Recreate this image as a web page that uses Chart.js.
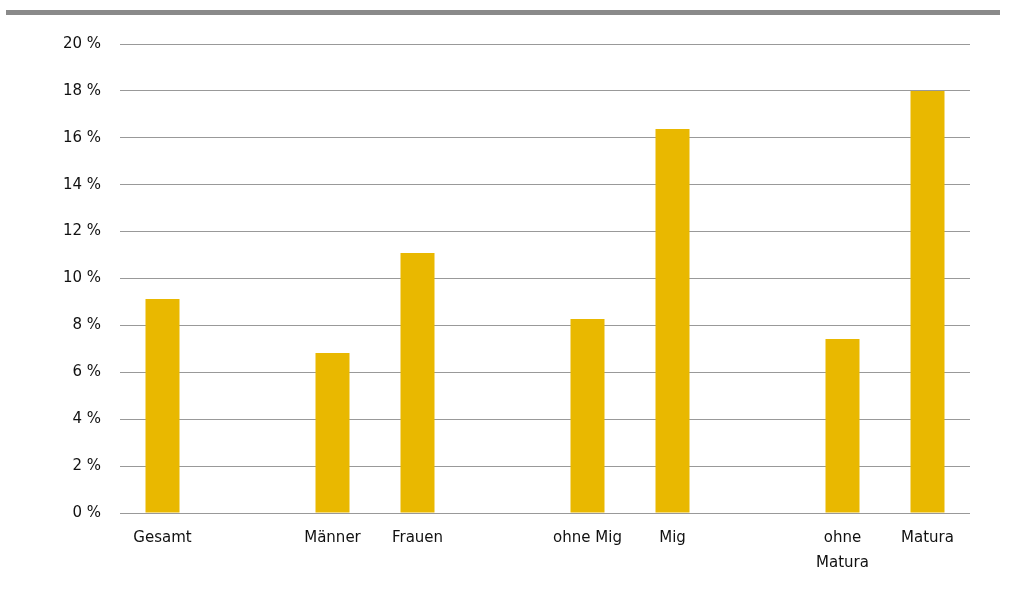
<!DOCTYPE html>
<html>
<head>
<meta charset="utf-8">
<script src="https://cdn.jsdelivr.net/npm/chart.js@4/dist/chart.umd.min.js"></script>
<style>
    html, body { margin: 0; padding: 0; background: #fff; }
    #wrap { position: relative; width: 1022px; height: 593px; }
    #topbar { position: absolute; left: 6px; top: 10px; width: 994px; height: 5px; background: #8a8a8a; }
    canvas { position: absolute; left: 0; top: 0; }
</style>
</head>
<body>
<div id="wrap">
    <div id="topbar"></div>
    <canvas id="chart" width="1022" height="593"></canvas>
</div>
<script>
// Kategorien (leere Einträge = Abstand zwischen den Gruppen)
const categories = ["Gesamt", "", "Männer", "Frauen", "", "ohne Mig", "Mig", "", ["ohne", "Matura"], "Matura"];
const values = [9.13, null, 6.82, 11.09, null, 8.27, 16.38, null, 7.42, 18.0];
const yTicks = [0, 2, 4, 6, 8, 10, 12, 14, 16, 18, 20];

const ctx = document.getElementById("chart").getContext("2d");
new Chart(ctx, {
    type: "bar",
    data: {
        labels: categories,
        datasets: [
            {
                label: "Anteil",
                data: values,
                backgroundColor: "#e9b800",
                barPercentage: 0.4,
                categoryPercentage: 1,
            },
        ],
    },
    options: {
        responsive: false,
        animation: false,
        layout: {
            padding: { top: 44, right: 52, left: 0, bottom: 0 },
        },
        plugins: {
            legend: { display: false },
            tooltip: { enabled: false },
        },
        scales: {
            x: {
                grid: { display: false },
                border: { display: false },
                ticks: {
                    color: "#111111",
                    font: { family: "DejaVu Sans", size: 15, lineHeight: 1.65 },
                    padding: 5,
                    maxRotation: 0,
                    autoSkip: false,
                },
                afterFit: (scale) => { scale.height = 80; },
            },
            y: {
                min: 0,
                max: 20,
                afterBuildTicks: (scale) => {
                    scale.ticks = yTicks.map((v) => ({ value: v }));
                },
                grid: { color: "#999999", lineWidth: 1, drawTicks: false },
                border: { display: false },
                ticks: {
                    color: "#111111",
                    font: { family: "DejaVu Sans", size: 15 },
                    padding: 19,
                    callback: (v) => v + " %",
                },
                afterFit: (scale) => { scale.width = 120; },
            },
        },
    },
});
</script>
</body>
</html>
